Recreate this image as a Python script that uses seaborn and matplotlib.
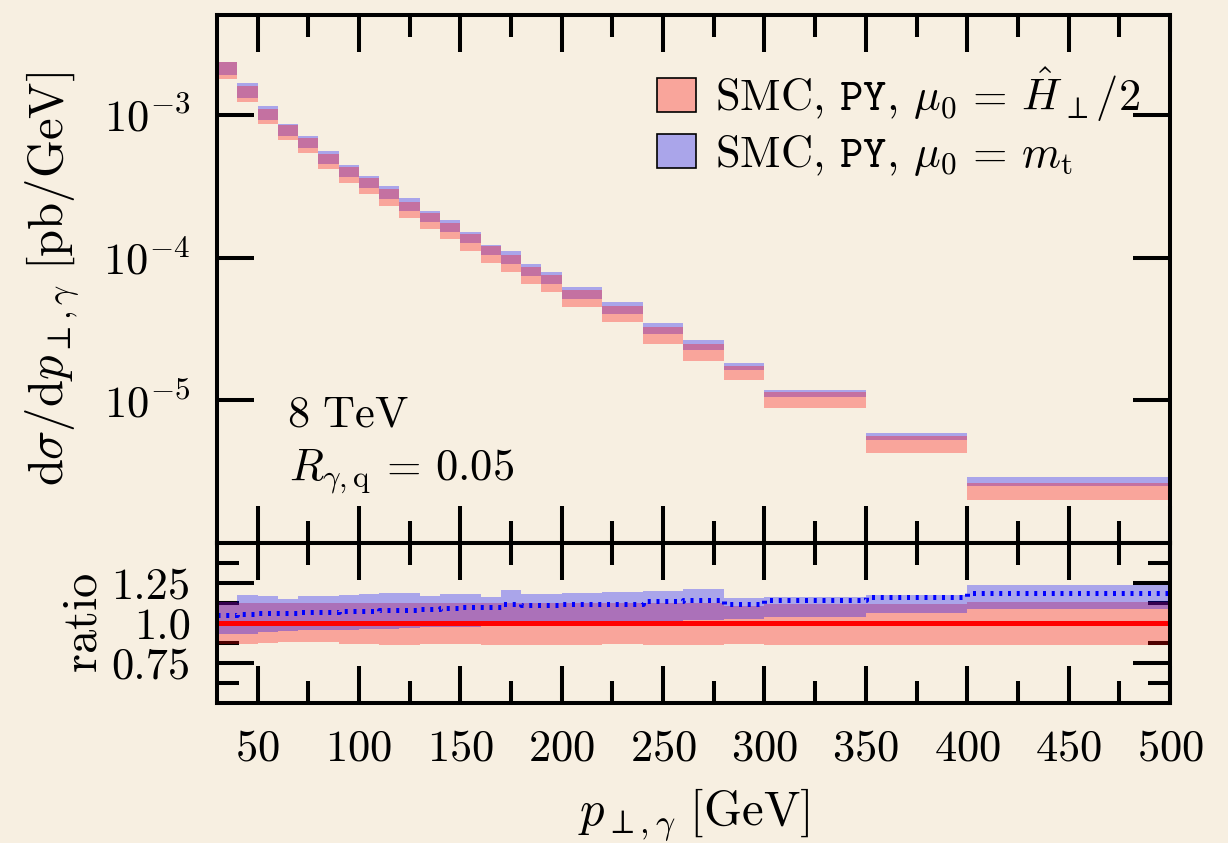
import numpy as np
import pandas as pd
import matplotlib
matplotlib.use("Agg")
import matplotlib.pyplot as plt
import seaborn as sns
from matplotlib.patches import Patch
from matplotlib.ticker import FixedLocator, NullLocator, FixedFormatter

# ---------------- data ----------------
bin_edges = [30, 40, 50, 60, 70, 80, 90, 100, 110, 120, 130, 140, 150, 160,
             170, 180, 190, 200, 220, 240, 260, 280, 300, 350, 400, 500]

# central prediction, mu0 = H_perp/2  [pb/GeV]
xsec_central = [2.06e-3, 1.42e-3, 9.8e-4, 7.5e-4, 6.1e-4, 4.75e-4, 3.8e-4,
                3.18e-4, 2.66e-4, 2.19e-4, 1.81e-4, 1.56e-4, 1.29e-4, 1.06e-4,
                9.2e-5, 7.6e-5, 6.65e-5, 5.22e-5, 4.06e-5, 2.90e-5, 2.19e-5,
                1.58e-5, 1.02e-5, 5.0e-6, 2.33e-6]

# scale band of mu0 = H_perp/2, relative to its central value
red_lo = [0.871, 0.871, 0.875, 0.881, 0.881, 0.881, 0.871, 0.871, 0.865, 0.865,
          0.871, 0.867, 0.867, 0.861, 0.861, 0.865, 0.865, 0.861, 0.871, 0.861,
          0.861, 0.871, 0.861, 0.861, 0.861]
red_hi = [1.130, 1.128, 1.128, 1.127, 1.127, 1.127, 1.127, 1.127, 1.127, 1.127,
          1.127, 1.127, 1.127, 1.127, 1.127, 1.127, 1.127, 1.127, 1.127, 1.125,
          1.125, 1.104, 1.121, 1.121, 1.131]

# mu0 = m_t, relative to the H_perp/2 central value
blue_c = [1.048, 1.055, 1.060, 1.063, 1.067, 1.070, 1.073, 1.077, 1.080, 1.083,
          1.088, 1.093, 1.097, 1.100, 1.121, 1.110, 1.110, 1.121, 1.121, 1.138,
          1.144, 1.121, 1.144, 1.161, 1.189]
blue_lo = [0.929, 0.929, 0.944, 0.948, 0.954, 0.954, 0.958, 0.963, 0.963, 0.969,
           0.972, 0.975, 0.975, 0.979, 0.980, 0.983, 0.985, 0.986, 0.992, 1.006,
           1.021, 1.027, 1.040, 1.061, 1.085]
blue_hi = [1.130, 1.177, 1.167, 1.152, 1.167, 1.167, 1.173, 1.179, 1.188, 1.188,
           1.167, 1.179, 1.179, 1.163, 1.204, 1.183, 1.183, 1.188, 1.194, 1.200,
           1.210, 1.155, 1.163, 1.178, 1.236]

x_ticks = [50, 100, 150, 200, 250, 300, 350, 400, 450, 500]
ratio_ticks = [0.75, 1.0, 1.25]
ratio_ticklabels = ["0.75", "1.0", "1.25"]
legend_labels = [r"SMC, $\mathtt{PY}$, $\mu_0\, =\, \hat{H}_{\perp}/2$",
                 r"SMC, $\mathtt{PY}$, $\mu_0\, =\, m_{\mathrm{t}}$"]

# ---------------- style ----------------
sns.set_theme(style="ticks")
plt.rcParams["font.family"] = ["cmr10", "DejaVu Serif"]
plt.rcParams["mathtext.fontset"] = "cm"
plt.rcParams["axes.formatter.use_mathtext"] = True
plt.rcParams["axes.unicode_minus"] = False
for k in ("text.color", "axes.labelcolor", "xtick.color", "ytick.color",
          "axes.edgecolor"):
    plt.rcParams[k] = "black"

bg = "#F7EFE1"
RED = (1.0, 0.0, 0.0)
BLUE = (0.0, 0.0, 1.0)
ALPHA = 0.31
FS = 32
FSL = 35

fig = plt.figure(figsize=(12.28, 8.43), dpi=100, facecolor=bg)
W, H = 1228.0, 843.0
L, R = 217 / W, 1170 / W
ax = fig.add_axes([L, 1 - 543 / H, R - L, (543 - 15) / H])
axr = fig.add_axes([L, 1 - 703 / H, R - L, (703 - 543) / H], sharex=ax)

edges = np.array(bin_edges, dtype=float)
widths = np.diff(edges)
left = edges[:-1]
c = np.array(xsec_central)
rlo, rhi = np.array(red_lo), np.array(red_hi)
blo, bhi, bc = np.array(blue_lo), np.array(blue_hi), np.array(blue_c)

# ---------------- main panel ----------------
ax.bar(left, c * (bhi - blo), bottom=c * blo, width=widths, align="edge",
       color=BLUE + (ALPHA,), linewidth=0)
ax.bar(left, c * (rhi - rlo), bottom=c * rlo, width=widths, align="edge",
       color=RED + (ALPHA,), linewidth=0)
ax.set_yscale("log")
ax.set_ylim(1e-6, 5e-3)
ax.set_xlim(30, 500)
ax.yaxis.set_major_locator(FixedLocator([1e-5, 1e-4, 1e-3]))
ax.yaxis.set_minor_locator(NullLocator())

# ---------------- ratio panel ----------------
ext = lambda a: np.append(a, a[-1])
axr.fill_between(edges, ext(rlo), ext(rhi), step="post", color=RED,
                 alpha=ALPHA, linewidth=0)
axr.fill_between(edges, ext(blo), ext(bhi), step="post", color=BLUE,
                 alpha=ALPHA, linewidth=0)

df = pd.DataFrame({"pT": edges, "ratio_red": ext(np.ones_like(c)),
                   "ratio_blue": ext(bc)})
sns.lineplot(data=df, x="pT", y="ratio_blue", ax=axr, color=BLUE, lw=3.6,
             drawstyle="steps-post", estimator=None, sort=False)
axr.lines[-1].set_linestyle((0, (0.6, 1.15)))
axr.lines[-1].set_dash_capstyle("butt")
sns.lineplot(data=df, x="pT", y="ratio_red", ax=axr, color=RED, lw=3.6,
             drawstyle="steps-post", estimator=None, sort=False)

axr.set_ylim(0.5, 1.5)
axr.yaxis.set_major_locator(FixedLocator(ratio_ticks))
axr.yaxis.set_major_formatter(FixedFormatter(ratio_ticklabels))
axr.yaxis.set_minor_locator(FixedLocator([0.625, 0.875, 1.125, 1.375]))

for a in (ax, axr):
    a.set_facecolor(bg)
    a.set_axisbelow(True)
    a.xaxis.set_major_locator(FixedLocator(x_ticks))
    a.xaxis.set_minor_locator(FixedLocator(list(range(75, 500, 50))))
    a.tick_params(which="both", direction="in", top=True, right=True,
                  bottom=True, left=True, width=2.9, color="black",
                  labelcolor="black", labelsize=FS, pad=19)
    a.tick_params(which="major", length=26.6)
    a.tick_params(which="minor", length=15.8)
    for s in a.spines.values():
        s.set_linewidth(2.9)
        s.set_color("black")
        s.set_visible(True)
ax.tick_params(labelbottom=False)

# ---------------- labels ----------------
ax.set_xlabel("")
ax.set_ylabel(r"$\mathrm{d}\sigma/\mathrm{d}p_{\perp,\gamma}\ [\mathrm{pb/GeV}]$",
              fontsize=FSL, va="center", color="black")
ax.yaxis.set_label_coords(-0.172, 0.5)
axr.set_ylabel(r"$\mathrm{ratio}$", fontsize=FSL, va="center", color="black")
axr.yaxis.set_label_coords(-0.1396, 0.5)
axr.set_xlabel(r"$p_{\perp,\gamma}\ [\mathrm{GeV}]$", fontsize=FSL,
               va="center", color="black")
axr.xaxis.set_label_coords(0.5, -0.70)

ax.text(0.0735, 0.220, r"$8\ \mathrm{TeV}$", transform=ax.transAxes,
        fontsize=FS, va="baseline", ha="left", color="black")
ax.text(0.0755, 0.119, r"$R_{\gamma,\mathrm{q}}\, =\, 0.05$",
        transform=ax.transAxes, fontsize=FS, va="baseline", ha="left",
        color="black")

handles = [Patch(facecolor=RED + (ALPHA,), edgecolor="black", linewidth=1.2),
           Patch(facecolor=BLUE + (ALPHA,), edgecolor="black", linewidth=1.2)]
leg = ax.legend(handles, legend_labels, loc="upper left",
                bbox_to_anchor=(0.4617, 0.905), frameon=False, fontsize=32,
                handlelength=0.88, handleheight=0.81, handletextpad=0.42,
                labelspacing=0.2, borderpad=0, borderaxespad=0)
for t in leg.get_texts():
    t.set_color("black")

fig.savefig("out.png", dpi=100, facecolor=bg)
